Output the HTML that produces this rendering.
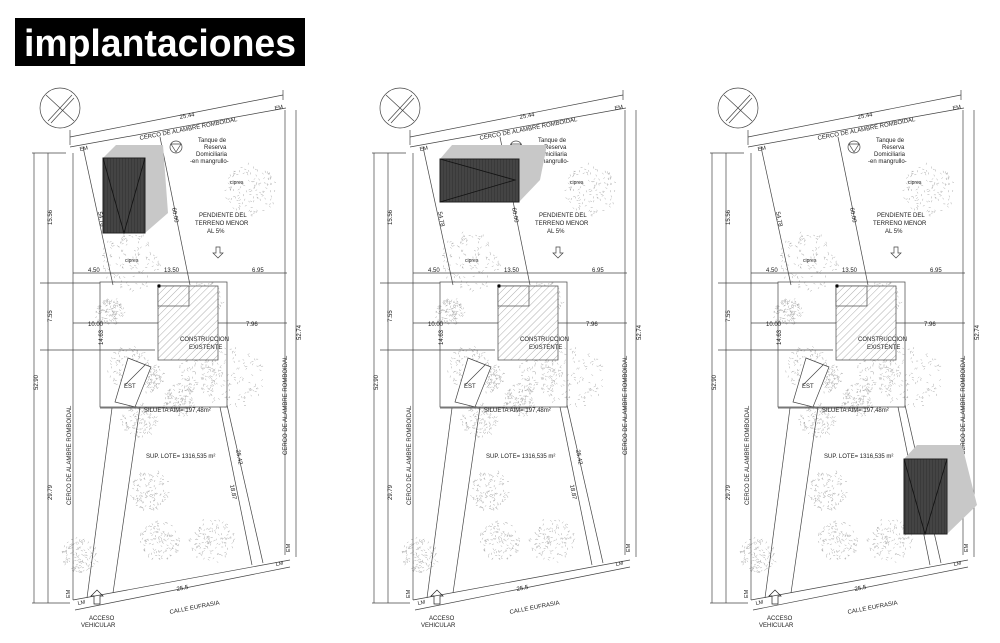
<!DOCTYPE html>
<html><head><meta charset="utf-8"><style>
body{margin:0;background:#fff;width:1000px;height:643px;overflow:hidden}
svg{display:block}
text{font-family:"Liberation Sans",sans-serif;fill:#222}
</style></head><body>
<svg width="1000" height="643" viewBox="0 0 1000 643" xmlns="http://www.w3.org/2000/svg">
<defs>
<pattern id="hatch" width="5" height="5" patternUnits="userSpaceOnUse" patternTransform="rotate(45)">
<rect width="5" height="5" fill="#fff"/>
<line x1="0" y1="0" x2="0" y2="5" stroke="#777" stroke-width="0.6"/></pattern>
<pattern id="vstripe" width="3" height="4" patternUnits="userSpaceOnUse">
<rect width="3" height="4" fill="#3a3a3a"/><line x1="1" y1="0" x2="1" y2="4" stroke="#555" stroke-width="0.7"/></pattern>
<g id="panel" stroke="#444" stroke-width="0.7" fill="none">
<g id="trees" stroke="#aaa" stroke-width="0.5"></g>
<!-- north -->
<circle cx="60" cy="108" r="20"/>
<line x1="46" y1="95" x2="74" y2="121"/>
<line x1="48" y1="121" x2="72" y2="95"/>
<line x1="51" y1="123" x2="74" y2="98"/>
<!-- top dimension -->
<line x1="70" y1="137" x2="283" y2="95"/>
<line x1="70" y1="130" x2="70" y2="145"/><line x1="283" y1="90" x2="283" y2="100"/>
<!-- lot -->
<polyline points="70,147 286,108"/>
<line x1="73" y1="153" x2="73" y2="600"/>
<line x1="285" y1="110" x2="285" y2="555"/>
<line x1="73" y1="600" x2="290" y2="560"/>
<line x1="75" y1="610" x2="290" y2="567"/>
<!-- left dims -->
<line x1="34" y1="153" x2="34" y2="603"/>
<line x1="48" y1="153" x2="48" y2="603"/>
<line x1="32" y1="153" x2="66" y2="153"/><line x1="32" y1="603" x2="70" y2="603"/>
<line x1="296" y1="110" x2="296" y2="557"/>
<!-- diagonals -->
<line x1="83" y1="147" x2="113" y2="285"/>
<line x1="112" y1="408" x2="87" y2="598"/>
<line x1="140" y1="407" x2="113" y2="593"/>
<line x1="160" y1="137" x2="190" y2="285"/>
<line x1="220" y1="407" x2="252" y2="565"/>
<line x1="227" y1="405" x2="263" y2="563"/>
<!-- dims horizontal -->
<line x1="73" y1="273" x2="287" y2="273"/>
<line x1="73" y1="323" x2="287" y2="323"/>
<line x1="40" y1="283" x2="100" y2="283"/>
<line x1="40" y1="350" x2="155" y2="350"/>
<line x1="100" y1="408" x2="190" y2="408"/>
<rect x="100" y="282" width="127" height="125"/>
<rect x="158" y="286" width="60" height="74" fill="url(#hatch)"/>
<rect x="158" y="286" width="31" height="20" fill="url(#hatch)"/>
<circle cx="159" cy="286" r="1.5" fill="#000"/>
<polygon points="128,358 151,367 135,407 115,402" fill="#fff"/>
<line x1="125" y1="385" x2="145" y2="365"/>
<!-- tank -->
<circle cx="176" cy="147" r="6"/><polygon points="171,144 181,144 176,152"/>
<polygon points="216,247 216,253 213,253 218,258 223,253 220,253 220,247"/>
<polygon points="94,604 94,596 91,596 97,590 103,596 100,596 100,604" stroke="#222"/>
<g stroke="none" fill="#222">
<text x="180" y="119" font-size="6" transform="rotate(-11 180 119)">25.44</text>
<text x="140" y="140" font-size="6" transform="rotate(-11 140 140)">CERCO DE ALAMBRE ROMBOIDAL</text>
<text x="80" y="151" font-size="5.5" transform="rotate(-11 80 151)">EM</text>
<text x="275" y="110" font-size="5.5" transform="rotate(-11 275 110)">EM</text>
<text x="198" y="142" font-size="6">Tanque de</text>
<text x="204" y="149" font-size="6">Reserva</text>
<text x="196" y="156" font-size="6">Domiciliaria</text>
<text x="190" y="163" font-size="6">-en mangrullo-</text>
<text x="230" y="184" font-size="5">cipres</text>
<text x="199" y="217" font-size="6">PENDIENTE DEL</text>
<text x="195" y="225" font-size="6">TERRENO MENOR</text>
<text x="207" y="233" font-size="6">AL 5%</text>
<text x="125" y="262" font-size="5">cipres</text>
<text x="88" y="272" font-size="6">4.50</text>
<text x="164" y="272" font-size="6">13.50</text>
<text x="252" y="272" font-size="6">6.95</text>
<text x="88" y="326" font-size="6">10.00</text>
<text x="246" y="326" font-size="6">7.96</text>
<text x="180" y="341" font-size="6">CONSTRUCCION</text>
<text x="189" y="349" font-size="6">EXISTENTE</text>
<text x="124" y="388" font-size="6">EST</text>
<text x="144" y="412" font-size="6">SILUETA AIM= 197,48m²</text>
<text x="146" y="458" font-size="6">SUP. LOTE= 1316,535 m²</text>
<text x="177" y="591" font-size="6" transform="rotate(-11 177 591)">25.5</text>
<text x="170" y="614" font-size="6" transform="rotate(-11 170 614)">CALLE EUFRASIA</text>
<text x="89" y="620" font-size="6">ACCESO</text>
<text x="81" y="627" font-size="6">VEHICULAR</text>
<text x="78" y="605" font-size="5.5" transform="rotate(-11 78 605)">LM</text>
<text x="276" y="566" font-size="5.5" transform="rotate(-11 276 566)">LM</text>
<text x="70" y="598" font-size="5.5" transform="rotate(-90 70 598)">EM</text>
<text x="290" y="552" font-size="5.5" transform="rotate(-90 290 552)">EM</text>
<text x="52" y="225" font-size="6" transform="rotate(-90 52 225)">15.56</text>
<text x="52" y="322" font-size="6" transform="rotate(-90 52 322)">7.55</text>
<text x="38" y="390" font-size="6" transform="rotate(-90 38 390)">52.90</text>
<text x="52" y="500" font-size="6" transform="rotate(-90 52 500)">29.79</text>
<text x="103" y="345" font-size="6" transform="rotate(-90 103 345)">14.63</text>
<text x="301" y="340" font-size="6" transform="rotate(-90 301 340)">52.74</text>
<text x="71" y="505" font-size="6" transform="rotate(-90 71 505)">CERCO DE ALAMBRE ROMBOIDAL</text>
<text x="287" y="455" font-size="6" transform="rotate(-90 287 455)">CERCO DE ALAMBRE ROMBOIDAL</text>
<text x="98" y="212" font-size="6" transform="rotate(79 98 212)">54.78</text>
<text x="172" y="208" font-size="6" transform="rotate(79 172 208)">60.00</text>
<text x="236" y="450" font-size="6" transform="rotate(79 236 450)">25.42</text>
<text x="230" y="485" font-size="6" transform="rotate(79 230 485)">18.87</text>
</g>
</g>
</defs>
<rect x="15" y="18" width="290" height="48" fill="#000"/>
<text x="24" y="56" font-size="38" font-weight="bold" textLength="272" lengthAdjust="spacingAndGlyphs" style="fill:#fff;font-family:'Liberation Sans',sans-serif">implantaciones</text>
<use href="#panel"/>
<use href="#panel" transform="translate(340,0)"/>
<use href="#panel" transform="translate(678,0)"/>
<!-- houses -->
<polygon points="103,158 116,145 163,145 168,213 145,233" fill="#c8c8c8"/>
<rect x="103" y="158" width="42" height="75" fill="url(#vstripe)" stroke="#222"/>
<polyline points="103,158 124,233 145,158" fill="none" stroke="#111" stroke-width="0.8"/>
<polygon points="440,159 452,145 547,145 540,180 519,202" fill="#c8c8c8"/>
<rect x="440" y="159" width="79" height="43" fill="url(#vstripe)" stroke="#222"/>
<polyline points="440,159 515,180 440,202" fill="none" stroke="#111" stroke-width="0.8"/>
<polygon points="904,459 917,445 962,445 977,505 947,534" fill="#c8c8c8"/>
<rect x="904" y="459" width="43" height="75" fill="url(#vstripe)" stroke="#222"/>
<polyline points="904,459 925,534 947,459" fill="none" stroke="#111" stroke-width="0.8"/>
<script>
(function(){
var g=document.getElementById('trees');var ns='http://www.w3.org/2000/svg';
var T=[[250,190,26],[130,262,30],[110,312,14],[128,368,22],[200,372,22],[150,378,14],[232,378,32],[140,420,18],[180,400,16],[150,490,20],[160,540,20],[212,540,22],[80,555,18],[205,300,18]];
var s=7,r=function(){s=(s*16807)%2147483647;return s/2147483647;};
var d='';
T.forEach(function(t){for(var i=0;i<130;i++){var a=r()*6.283,q=Math.sqrt(r())*t[2];var x=t[0]+Math.cos(a)*q,y=t[1]+Math.sin(a)*q;var b=r()*6.283;d+='M'+x.toFixed(1)+' '+y.toFixed(1)+'l'+(Math.cos(b)*2).toFixed(1)+' '+(Math.sin(b)*2).toFixed(1);}});
var p=document.createElementNS(ns,'path');p.setAttribute('d',d);g.appendChild(p);
})();
</script>
</svg>
</body></html>
